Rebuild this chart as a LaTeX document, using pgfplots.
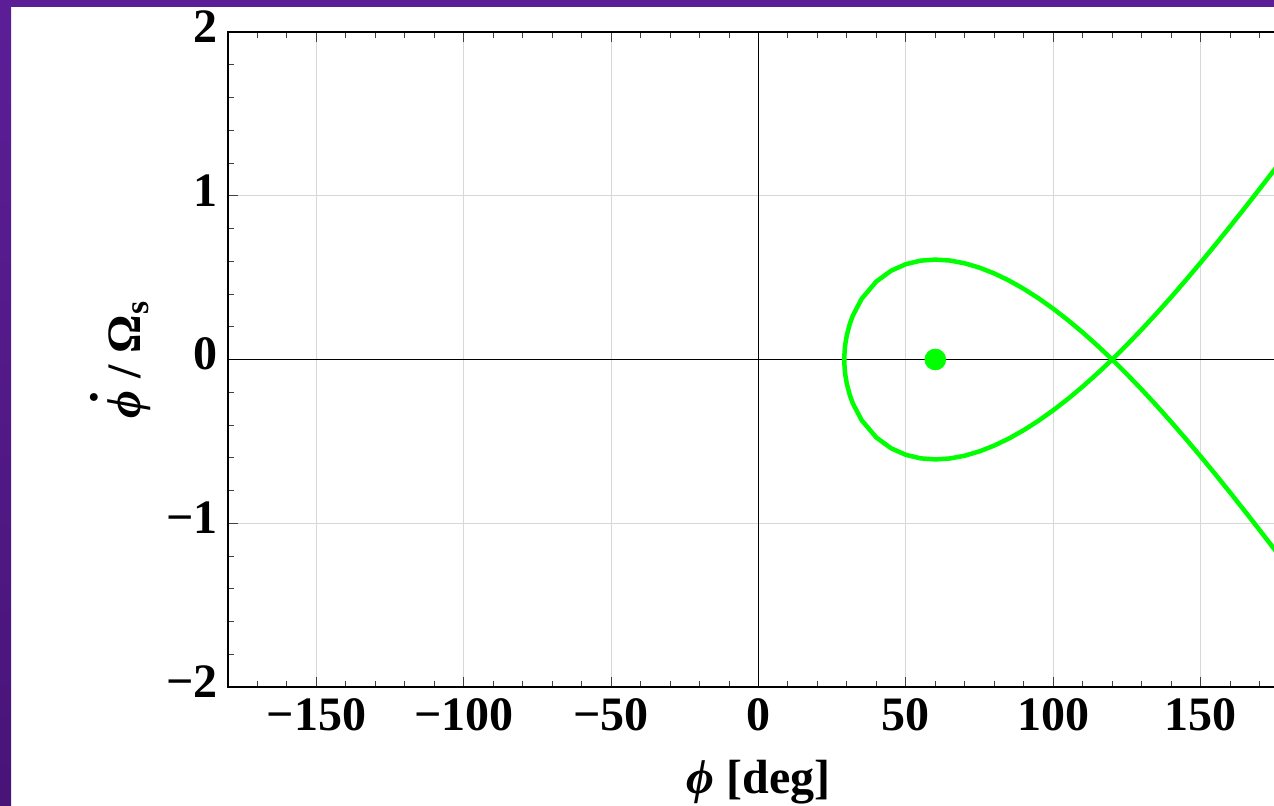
\documentclass[border=0pt]{standalone}
\usepackage{fontspec}
\setmainfont{Liberation Serif}
\usepackage{pgfplots}
\pgfplotsset{compat=1.18}
\definecolor{bgpurpleTop}{RGB}{92,30,151}
\definecolor{bgpurpleBot}{RGB}{72,20,120}
\definecolor{curvegreen}{RGB}{0,255,0}
\definecolor{gridgray}{RGB}{215,215,215}
\begin{document}
\begin{tikzpicture}
\fill[white] (0,0) rectangle (637pt,402.5pt);
\shade[top color=bgpurpleTop, bottom color=bgpurpleBot] (0,0) rectangle (5.5pt,402.5pt);
\fill[bgpurpleTop] (0,399pt) rectangle (637pt,402.5pt);
\begin{axis}[
  at={(114pt,59pt)}, anchor=south west,
  scale only axis, width=530.5pt, height=327.5pt,
  xmin=-180, xmax=180, ymin=-2, ymax=2,
  xtick={-150,-100,-50,0,50,100,150},
  xticklabels={−150,−100,−50,0,50,100,150},
  ytick={-2,-1,0,1,2},
  yticklabels={−2,−1,0,1,2},
  minor xtick={-170,-160,...,170},
  minor ytick={-1.8,-1.6,-1.4,-1.2,-0.8,-0.6,-0.4,-0.2,0.2,0.4,0.6,0.8,1.2,1.4,1.6,1.8},
  tick align=inside,
  major tick length=5pt, minor tick length=3pt,
  tick style={black!75, line width=0.5pt},
  grid=major, major grid style={gridgray, line width=0.6pt},
  axis line style={black, line width=0.55pt},
  tick label style={font=\fontsize{24}{28}\selectfont\bfseries},
  xticklabel style={anchor=north, inner sep=0pt, yshift=-5.5pt},
  yticklabel style={anchor=east, inner sep=0pt, xshift=-5pt, yshift=2.75pt},
  label style={font=\fontsize{24}{28}\selectfont\bfseries},
  xlabel={\textit{ϕ} [deg]},
  ylabel={\rlap{\hspace{0.3em}\raisebox{0.9em}{.}}\textit{ϕ} / Ω\textsubscript{s}},
  xlabel style={at={(axis description cs:0.5,0)}, anchor=north, inner sep=0pt, yshift=-36.5pt},
  ylabel style={at={(axis description cs:-0.082,0.5)}, anchor=base, inner sep=0pt},
]
\addplot[black, line width=0.5pt, forget plot] coordinates {(-180,0) (180,0)};
\addplot[black, line width=0.5pt, forget plot] coordinates {(0,-2) (0,2)};
% separatrix loop
\addplot[curvegreen, line width=2.25pt, line join=round] coordinates {
(120,0) (115,0.0850) (110,0.1653) (105,0.2405) (100,0.3102) (95,0.3740)
(90,0.4315) (85,0.4822) (80,0.5255) (75,0.5609) (70,0.5874) (65,0.6043)
(60,0.6102) (55,0.6037) (50,0.5822) (45,0.5422) (40,0.4768) (35,0.3708)
(32,0.2678) (31,0.2185) (30,0.1507) (29.5,0.0990) (29.3,0.0683) (29.2,0.0449) (29.15,0.0265) (29.12,0)
(29.15,-0.0265) (29.2,-0.0449) (29.3,-0.0683) (29.5,-0.0990) (30,-0.1507) (31,-0.2185) (32,-0.2678)
(35,-0.3708) (40,-0.4768) (45,-0.5422) (50,-0.5822) (55,-0.6037) (60,-0.6102)
(65,-0.6043) (70,-0.5874) (75,-0.5609) (80,-0.5255) (85,-0.4822) (90,-0.4315)
(95,-0.3740) (100,-0.3102) (105,-0.2405) (110,-0.1653) (115,-0.0850) (120,0)
};
% outer branches
\addplot[curvegreen, line width=2.25pt, line join=round] coordinates {
(120,0) (125,0.0894) (130,0.1829) (135,0.2801) (140,0.3808) (145,0.4847)
(150,0.5914) (155,0.7006) (160,0.8122) (165,0.9257) (170,1.0410) (175,1.1578) (180,1.2758)
};
\addplot[curvegreen, line width=2.25pt, line join=round] coordinates {
(120,0) (125,-0.0894) (130,-0.1829) (135,-0.2801) (140,-0.3808) (145,-0.4847)
(150,-0.5914) (155,-0.7006) (160,-0.8122) (165,-0.9257) (170,-1.0410) (175,-1.1578) (180,-1.2758)
};
\addplot[only marks, mark=*, mark size=5.2pt, curvegreen] coordinates {(60,0)};
\end{axis}
\pgfresetboundingbox
\path[use as bounding box] (0,0) rectangle (637pt,402.5pt);
\end{tikzpicture}
\end{document}
